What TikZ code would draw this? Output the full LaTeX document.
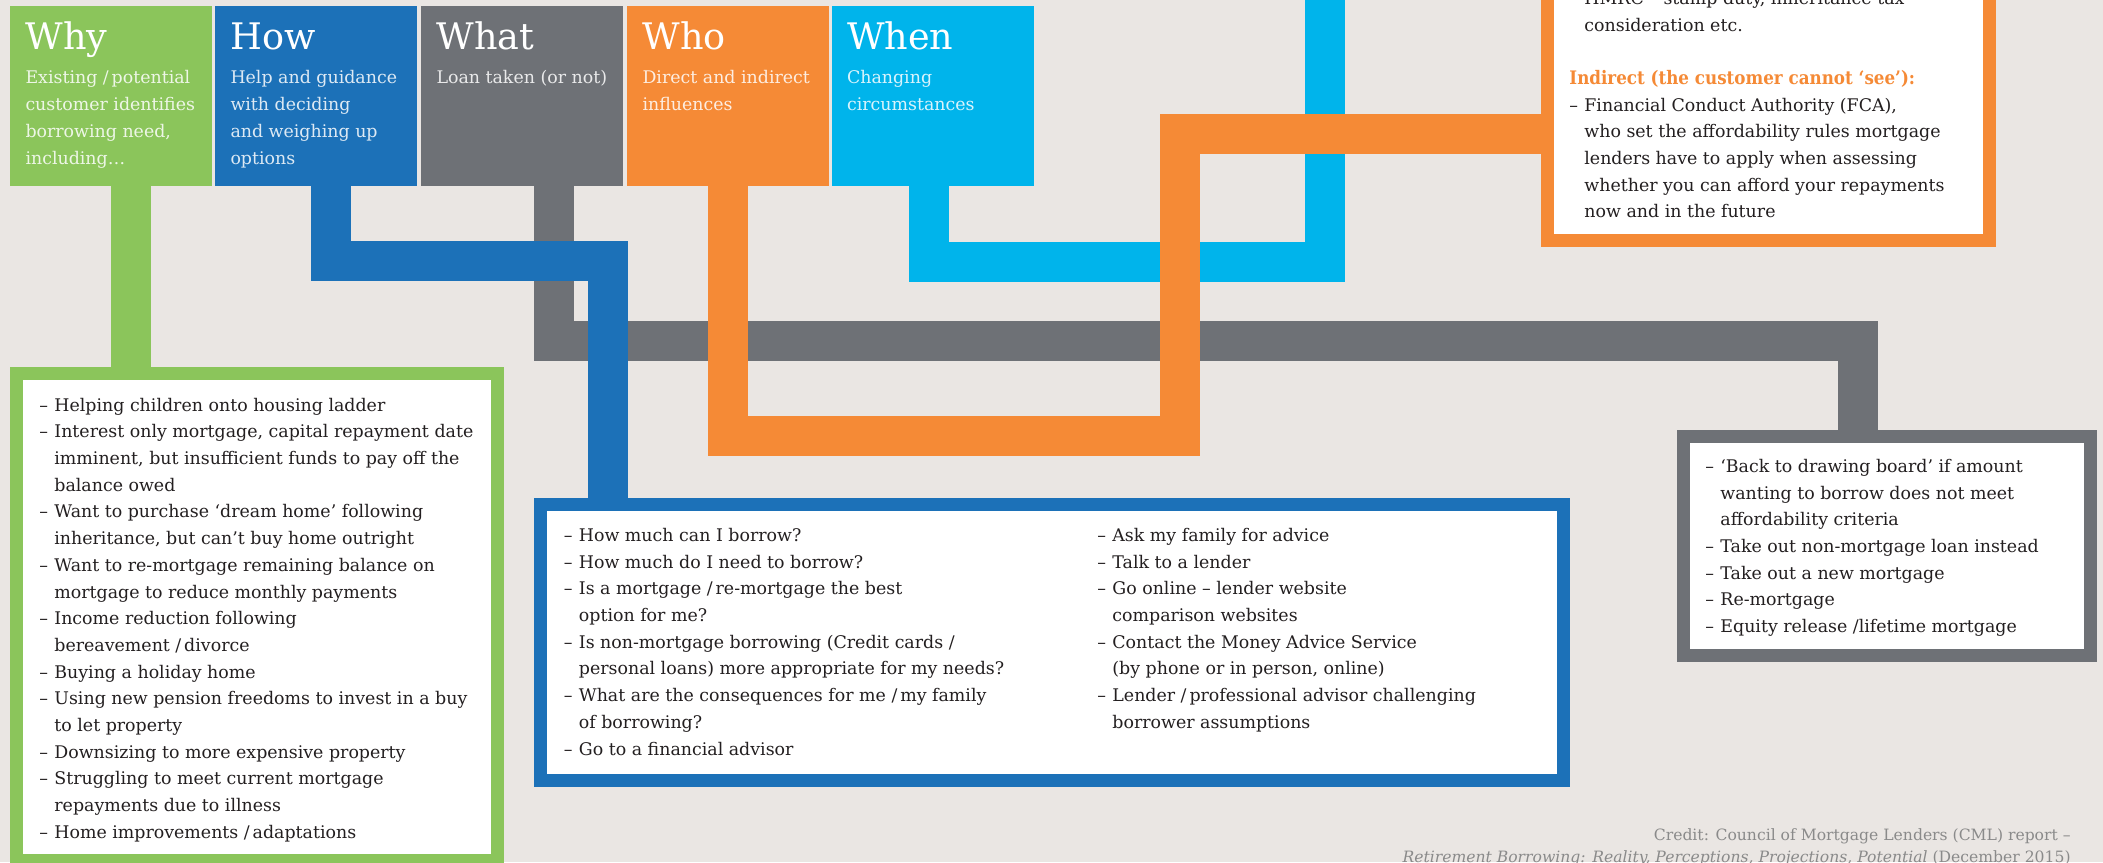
\documentclass[tikz,border=0pt]{standalone}
\usepackage{fontspec}
\setmainfont{DejaVu Serif}
\newfontfamily\condfont{DejaVu Serif Condensed}
\usetikzlibrary{calc}
\definecolor{bgc}{HTML}{EAE6E3}
\definecolor{cgreen}{HTML}{8BC55B}
\definecolor{cblue}{HTML}{1C71B8}
\definecolor{cgrey}{HTML}{6E7176}
\definecolor{corange}{HTML}{F58A36}
\definecolor{ccyan}{HTML}{00B4EB}
\definecolor{ctext}{HTML}{231F20}
\definecolor{ccredit}{HTML}{8A8A8A}
\newcommand\ditem{\makebox[7.5pt][l]{–}}
\newcommand\cont{\hspace*{7.5pt}}
\newcommand\slsep{\ /\,}
\tikzset{
  band/.style={line width=20pt, line join=miter},
  head/.style={minimum width=101pt, minimum height=90pt, inner sep=0pt, draw=none},
  listbox/.style={line width=6.5pt, fill=white, inner sep=0pt},
  title/.style={anchor=base west, inner sep=0pt, text=white, font=\fontsize{18.3}{20}\selectfont},
  subt/.style={anchor=north west, inner sep=0pt, align=left, text=white, text opacity=0.85, font=\fontsize{8.7}{13.35}\selectfont},
  body/.style={anchor=north west, inner sep=0pt, align=left, text=ctext, font=\fontsize{8.7}{13.35}\selectfont},
}
\begin{document}
\begin{tikzpicture}[x=0.5pt,y=-0.5pt]
\useasboundingbox (0,0) rectangle (2103,862);
\clip (0,0) rectangle (2103,862);
\fill[bgc] (0,0) rectangle (2103,862);
% header boxes
\node[head, fill=cgreen] (why) at (111,96) {};
\node[head, fill=cblue] (how) at (316,96) {};
\node[head, fill=cgrey] (what) at (522,96) {};
\node[head, fill=corange] (who) at (728,96) {};
\node[head, fill=ccyan] (when) at (932.5,96) {};
% list boxes
\node[listbox, draw=cgreen, minimum width=240.5pt, minimum height=243.5pt] (greenbox) at (257,617) {};
\node[listbox, draw=cblue, minimum width=511.5pt, minimum height=138pt] (bluebox) at (1052,642.5) {};
\node[listbox, draw=cgrey, minimum width=203.5pt, minimum height=109.5pt] (greybox) at (1887,546) {};
\node[listbox, draw=corange, minimum width=221pt, minimum height=140.25pt] (orangebox) at (1768.5,100.25) {};
% connector points
\coordinate (whyS) at (130.5,186);
\coordinate (howS) at (331,186);
\coordinate (whatS) at (554,186);
\coordinate (whoS) at (728,186);
\coordinate (whenS) at (929,186);
\coordinate (b1) at (607.5,261);
\coordinate (g1) at (1858,341);
\coordinate (c1) at (1325,262);
\coordinate (ctop) at (1325,-20);
\coordinate (o1) at (1179.5,436);
\coordinate (o2) at (1179.5,134);
% connectors
\draw[band, cgrey] (whatS) |- (g1) -- (g1 |- greybox.north);
\draw[band, cblue] (howS) |- (b1) -- (b1 |- bluebox.north);
\draw[band, ccyan] (whenS) |- (c1) -- (ctop);
\draw[band, corange] (whoS) |- (o1) -- (o2) -- (o2 -| orangebox.west);
\draw[band, cgreen] (whyS) -- (whyS |- greenbox.north);
% header texts
\node[title] (whyT) at ($(why.north west)+(15.5,44)$) {Why};
\node[title] (howT) at ($(how.north west)+(15.5,44)$) {How};
\node[title] (whatT) at ($(what.north west)+(15.5,44)$) {What};
\node[title] (whoT) at ($(who.north west)+(15.5,44)$) {Who};
\node[title] (whenT) at ($(when.north west)+(15.5,44)$) {When};
\node[subt] (whyD) at ($(why.north west)+(15.5,59.3)$) {\strut Existing\slsep potential\\customer identifies\\borrowing need,\\including…};
\node[subt] (howD) at ($(how.north west)+(15.5,59.3)$) {\strut Help and guidance\\with deciding\\and weighing up\\options};
\node[subt] (whatD) at ($(what.north west)+(15.5,59.3)$) {\strut Loan taken (or not)};
\node[subt] (whoD) at ($(who.north west)+(15.5,59.3)$) {\strut Direct and indirect\\influences};
\node[subt] (whenD) at ($(when.north west)+(15.5,59.3)$) {\strut Changing\\circumstances};
% list texts
\node[body] (whyL) at (39,392) {\strut\ditem Helping children onto housing ladder\\
\ditem Interest only mortgage, capital repayment date\\
\cont imminent, but insufficient funds to pay off the\\
\cont balance owed\\
\ditem Want to purchase ‘dream home’ following\\
\cont inheritance, but can’t buy home outright\\
\ditem Want to re-mortgage remaining balance on\\
\cont mortgage to reduce monthly payments\\
\ditem Income reduction following\\
\cont bereavement\slsep divorce\\
\ditem Buying a holiday home\\
\ditem Using new pension freedoms to invest in a buy\\
\cont to let property\\
\ditem Downsizing to more expensive property\\
\ditem Struggling to meet current mortgage\\
\cont repayments due to illness\\
\ditem Home improvements\slsep adaptations};
\node[body] (howL) at (563.5,522.3) {\strut\ditem How much can I borrow?\\
\ditem How much do I need to borrow?\\
\ditem Is a mortgage\slsep re-mortgage the best\\
\cont option for me?\\
\ditem Is non-mortgage borrowing (Credit cards\ /\\
\cont personal loans) more appropriate for my needs?\\
\ditem What are the consequences for me\slsep my family\\
\cont of borrowing?\\
\ditem Go to a financial advisor};
\node[body] (howR) at (1097,522.3) {\strut\ditem Ask my family for advice\\
\ditem Talk to a lender\\
\ditem Go online – lender website\\
\cont comparison websites\\
\ditem Contact the Money Advice Service\\
\cont (by phone or in person, online)\\
\ditem Lender\slsep professional advisor challenging\\
\cont borrower assumptions};
\node[body] (whatL) at (1705,453.3) {\strut\ditem ‘Back to drawing board’ if amount\\
\cont wanting to borrow does not meet\\
\cont affordability criteria\\
\ditem Take out non-mortgage loan instead\\
\ditem Take out a new mortgage\\
\ditem Re-mortgage\\
\ditem Equity release\ /lifetime mortgage};
\node[body] (whoL) at (1569,-14.7) {\strut\ditem HMRC – stamp duty, inheritance tax\\
\cont consideration etc.\\[13.35pt]
{\color{corange}\condfont\bfseries\fontsize{9.3}{13.35}\selectfont Indirect (the customer cannot ‘see’):}\\
\ditem Financial Conduct Authority (FCA),\\
\cont who set the affordability rules mortgage\\
\cont lenders have to apply when assessing\\
\cont whether you can afford your repayments\\
\cont now and in the future};
% credit
\node[anchor=north east, inner sep=0pt, align=right, text=ccredit, font=\fontsize{7.8}{11}\selectfont] (credit) at (2071,824.6) {\strut Credit: Council of Mortgage Lenders (CML) report –\\
\textit{Retirement Borrowing: Reality, Perceptions, Projections, Potential} (December 2015)};
\end{tikzpicture}
\end{document}
